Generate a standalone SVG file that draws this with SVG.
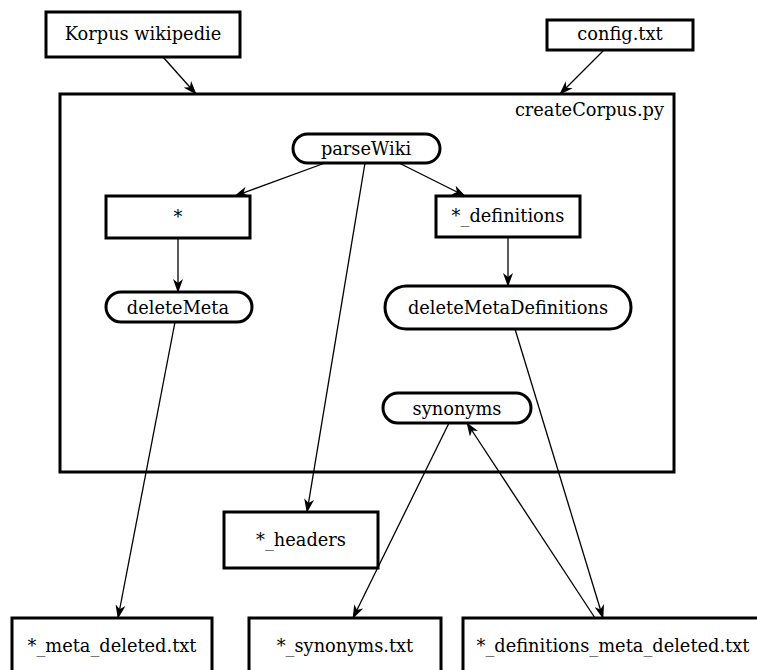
<svg xmlns="http://www.w3.org/2000/svg" width="757" height="670" viewBox="0 0 757 670">
<style>
.box{fill:#fff;stroke:#000;stroke-width:3}
.cont{fill:none;stroke:#000;stroke-width:3}
text{font-family:"DejaVu Serif",serif;font-size:17.8px;fill:#000;text-anchor:middle}
.e{stroke:#000;stroke-width:1.3;fill:none;marker-end:url(#a)}
</style>
<defs>
<marker id="a" viewBox="0 0 14 10" refX="13" refY="5" markerWidth="14" markerHeight="10" markerUnits="userSpaceOnUse" orient="auto">
<path d="M0,0 L14,5 L0,10 L4,5 Z" fill="#000"/>
</marker>
</defs>
<g id="createCorpus">
<rect class="cont" x="60" y="94" width="614" height="378"/>
<text x="664" y="116" style="text-anchor:end">createCorpus.py</text>
</g>
<g id="korpus"><rect class="box" x="46" y="12" width="194" height="45"/><text x="143" y="40">Korpus wikipedie</text></g>
<g id="config"><rect class="box" x="547" y="20" width="146" height="30"/><text x="620" y="40">config.txt</text></g>
<g id="parseWiki"><rect class="box" x="293" y="134" width="147" height="29" rx="14.5"/><text x="366" y="155">parseWiki</text></g>
<g id="star"><rect class="box" x="106" y="196" width="144" height="42"/><text x="178" y="223">*</text></g>
<g id="definitions"><rect class="box" x="436" y="196" width="144" height="41"/><text x="508" y="222">*_definitions</text></g>
<g id="deleteMeta"><rect class="box" x="106" y="292" width="146" height="30" rx="15"/><text x="178" y="314">deleteMeta</text></g>
<g id="deleteMetaDefinitions"><rect class="box" x="385" y="286" width="246" height="43" rx="21.5"/><text x="508" y="314">deleteMetaDefinitions</text></g>
<g id="synonyms"><rect class="box" x="383" y="393" width="148" height="30" rx="15"/><text x="457" y="415">synonyms</text></g>
<g id="headers"><rect class="box" x="224" y="512" width="154" height="56"/><text x="301" y="546">*_headers</text></g>
<g id="metaDeleted"><rect class="box" x="12" y="618" width="200" height="70"/><text x="112" y="652">*_meta_deleted.txt</text></g>
<g id="synonymsTxt"><rect class="box" x="249" y="618" width="192" height="70"/><text x="345" y="652">*_synonyms.txt</text></g>
<g id="defMetaDeleted"><rect class="box" x="463" y="618" width="310" height="70"/><text x="613" y="652">*_definitions_meta_deleted.txt</text></g>
<g id="connectors">
<line class="e" x1="163" y1="57" x2="196" y2="94"/>
<line class="e" x1="604" y1="50" x2="560" y2="94"/>
<line class="e" x1="325" y1="163" x2="235" y2="196"/>
<line class="e" x1="399" y1="163" x2="465" y2="196"/>
<line class="e" x1="365" y1="163" x2="307" y2="512"/>
<line class="e" x1="178" y1="238" x2="178" y2="292"/>
<line class="e" x1="508" y1="238" x2="508" y2="286"/>
<line class="e" x1="175" y1="322" x2="118" y2="618"/>
<line class="e" x1="449" y1="423" x2="353" y2="618"/>
<line class="e" x1="515" y1="329" x2="603" y2="618"/>
<line class="e" x1="595" y1="618" x2="467" y2="423"/>
</g>
</svg>
